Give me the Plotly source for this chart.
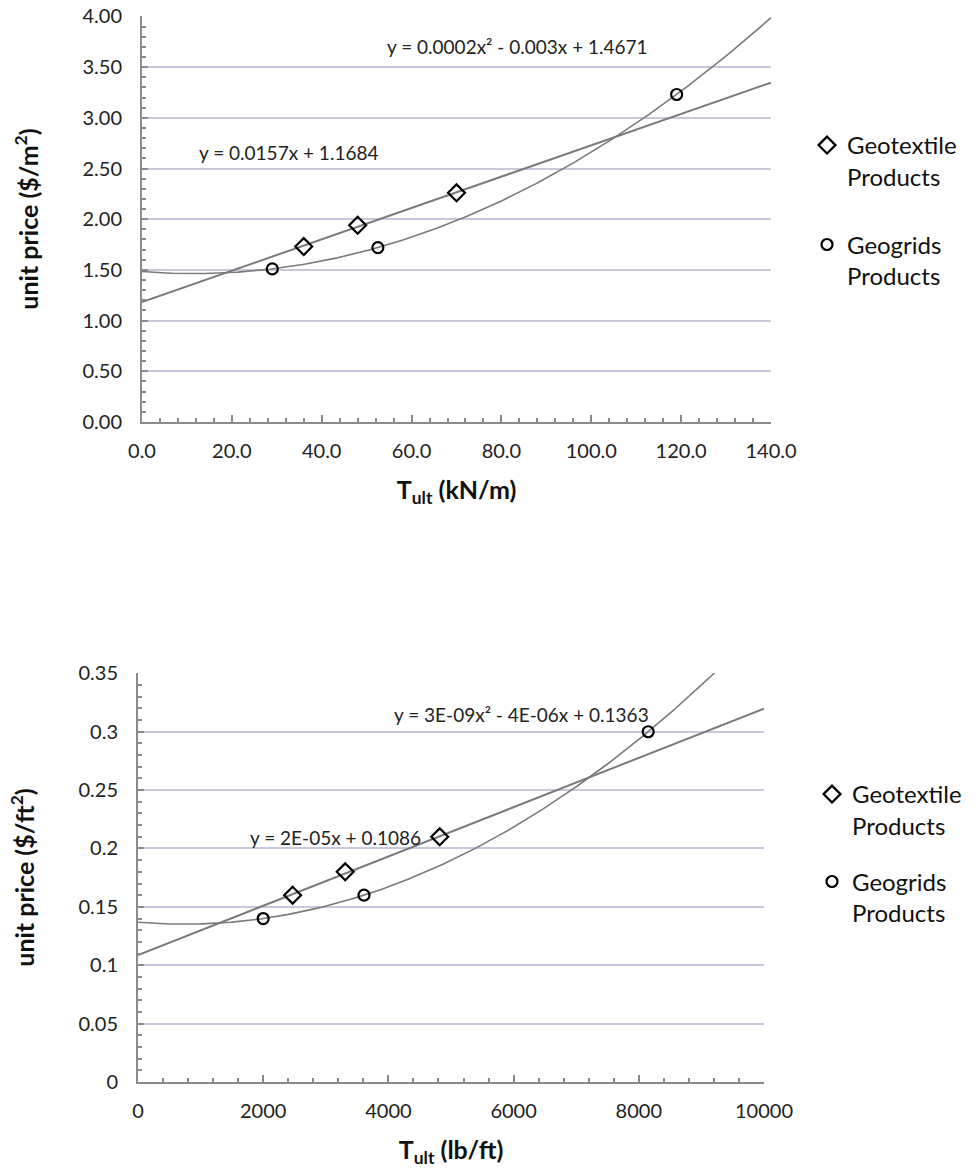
import numpy as np
import plotly.graph_objects as go

# ---------------- data ----------------
# Top chart: T_ult in kN/m, unit price in $/m2
top_geotextile_x = [36.0, 48.0, 70.0]
top_geotextile_y = [1.73, 1.94, 2.26]
top_geogrid_x = [29.0, 52.5, 119.0]
top_geogrid_y = [1.51, 1.72, 3.23]
top_x_range = [0, 140]
top_y_range = [0, 4.004]
top_lin_label = "y = 0.0157x + 1.1684"
top_quad_label = "y = 0.0002x² - 0.003x + 1.4671"

# Bottom chart: T_ult in lb/ft, unit price in $/ft2
bot_geotextile_x = [2470, 3310, 4820]
bot_geotextile_y = [0.16, 0.18, 0.21]
bot_geogrid_x = [2000, 3610, 8150]
bot_geogrid_y = [0.14, 0.16, 0.30]
bot_x_range = [0, 10000]
bot_y_range = [0, 0.3503]
bot_lin_label = "y = 2E-05x + 0.1086"
bot_quad_label = "y = 3E-09x² - 4E-06x + 0.1363"

series_names = ["Geotextile<br>Products", "Geogrids<br>Products"]

FONT = "Lato, 'Open Sans', sans-serif"
LINE_COLOR = "#7a7a7a"
GRID_COLOR = "#c6c9de"
AXIS_COLOR = "#8a8a8a"

W, H = 976, 1168


def px(x):
    return x / W


def py(y):
    return 1 - y / H


fig = go.Figure()


def add_chart(xa, ya, legend, gx, gy, cx, cy, xr):
    # trend lines fitted to the data
    xs = np.linspace(xr[0], xr[1], 400)
    lin = np.polyfit(gx, gy, 1)
    quad = np.polyfit(cx, cy, 2)
    fig.add_trace(go.Scatter(x=xs, y=np.polyval(lin, xs), mode="lines",
                             line=dict(color=LINE_COLOR, width=2),
                             showlegend=False, hoverinfo="skip",
                             xaxis=xa, yaxis=ya))
    fig.add_trace(go.Scatter(x=xs, y=np.polyval(quad, xs), mode="lines",
                             line=dict(color=LINE_COLOR, width=1.6),
                             showlegend=False, hoverinfo="skip",
                             xaxis=xa, yaxis=ya))
    fig.add_trace(go.Scatter(x=gx, y=gy, mode="markers", name=series_names[0],
                             marker=dict(symbol="diamond-open", size=13,
                                         color="black", line=dict(width=2.2)),
                             legend=legend, legendgroup=legend + "a",
                             xaxis=xa, yaxis=ya))
    fig.add_trace(go.Scatter(x=cx, y=cy, mode="markers", name=series_names[1],
                             marker=dict(symbol="circle-open", size=11,
                                         color="black", line=dict(width=2.2)),
                             legend=legend, legendgroup=legend + "b",
                             xaxis=xa, yaxis=ya))


add_chart("x", "y", "legend", top_geotextile_x, top_geotextile_y,
          top_geogrid_x, top_geogrid_y, top_x_range)
add_chart("x2", "y2", "legend2", bot_geotextile_x, bot_geotextile_y,
          bot_geogrid_x, bot_geogrid_y, bot_x_range)

tick_font = dict(family=FONT, size=20, color="#222")
title_font = dict(family=FONT, size=25, color="#111")


def xaxis_cfg(domain, rng, dtick, minor_dtick, fmt, title, anchor, standoff):
    return dict(domain=domain, range=rng, dtick=dtick, tick0=0, tickformat=fmt,
                showgrid=False, zeroline=False, showline=True,
                linecolor=AXIS_COLOR, linewidth=2, ticks="inside",
                ticklen=7, tickwidth=1.5, tickcolor=AXIS_COLOR,
                minor=dict(ticks="inside", ticklen=4, dtick=minor_dtick,
                           tickcolor=AXIS_COLOR, showgrid=False),
                tickfont=tick_font, ticklabelstandoff=10,
                title=dict(text=title, font=title_font, standoff=standoff),
                anchor=anchor, fixedrange=True, automargin=False)


def yaxis_cfg(domain, rng, dtick, minor_dtick, fmt, title, anchor):
    return dict(domain=domain, range=rng, dtick=dtick, tick0=0, tickformat=fmt,
                showgrid=True, gridcolor=GRID_COLOR, gridwidth=2,
                zeroline=False, showline=True,
                linecolor=AXIS_COLOR, linewidth=2, ticks="inside",
                ticklen=6, tickwidth=1.5, tickcolor=AXIS_COLOR,
                minor=dict(ticks="inside", ticklen=4, dtick=minor_dtick,
                           tickcolor=AXIS_COLOR, showgrid=False),
                tickfont=tick_font, ticklabelstandoff=14,
                ticklabeloverflow="allow",
                title=dict(text=title, font=title_font, standoff=37),
                anchor=anchor, fixedrange=True, automargin=False)


fig.update_layout(
    width=W, height=H,
    margin=dict(l=0, r=0, t=0, b=0, autoexpand=False),
    paper_bgcolor="white", plot_bgcolor="white",
    font=dict(family=FONT, color="#222"),
    xaxis=xaxis_cfg([px(142), px(771)], top_x_range, 20, 4, ".1f",
                    "<b>T<sub>ult</sub> (kN/m)</b>", "y", 20),
    yaxis=yaxis_cfg([py(422), py(16)], top_y_range, 0.5, 0.1, ".2f",
                    "<b>unit price ($/m<sup>2</sup>)</b>", "x"),
    xaxis2=xaxis_cfg([px(138), px(764)], bot_x_range, 2000, 400, "d",
                     "<b>T<sub>ult</sub> (lb/ft)</b>", "y2", 22),
    yaxis2=yaxis_cfg([py(1082), py(673)], bot_y_range, 0.05, 0.01, "",
                     "<b>unit price ($/ft<sup>2</sup>)</b>", "x2"),
    legend=dict(x=px(807), y=py(123), xanchor="left", yanchor="top",
                font=dict(family=FONT, size=24, color="#111"),
                valign="top", tracegroupgap=34, bgcolor="rgba(0,0,0,0)"),
    legend2=dict(x=px(812), y=py(772), xanchor="left", yanchor="top",
                 font=dict(family=FONT, size=24, color="#111"),
                 valign="top", tracegroupgap=22, bgcolor="rgba(0,0,0,0)"),
    showlegend=True,
)

ann_font = dict(family=FONT, size=19, color="#222")
fig.add_annotation(x=12.2, y=2.66, xref="x", yref="y", text=top_lin_label,
                   showarrow=False, xanchor="left", yanchor="middle", font=ann_font)
fig.add_annotation(x=54.0, y=3.70, xref="x", yref="y", text=top_quad_label,
                   showarrow=False, xanchor="left", yanchor="middle", font=ann_font)
fig.add_annotation(x=1760, y=0.2097, xref="x2", yref="y2", text=bot_lin_label,
                   showarrow=False, xanchor="left", yanchor="middle", font=ann_font)
fig.add_annotation(x=4050, y=0.3147, xref="x2", yref="y2", text=bot_quad_label,
                   showarrow=False, xanchor="left", yanchor="middle", font=ann_font)

# remove the default 8px page margin so the figure sits at the window origin
fig.write_html("out.html", config={"displayModeBar": False},
               post_script="document.body.style.margin='0px';")
